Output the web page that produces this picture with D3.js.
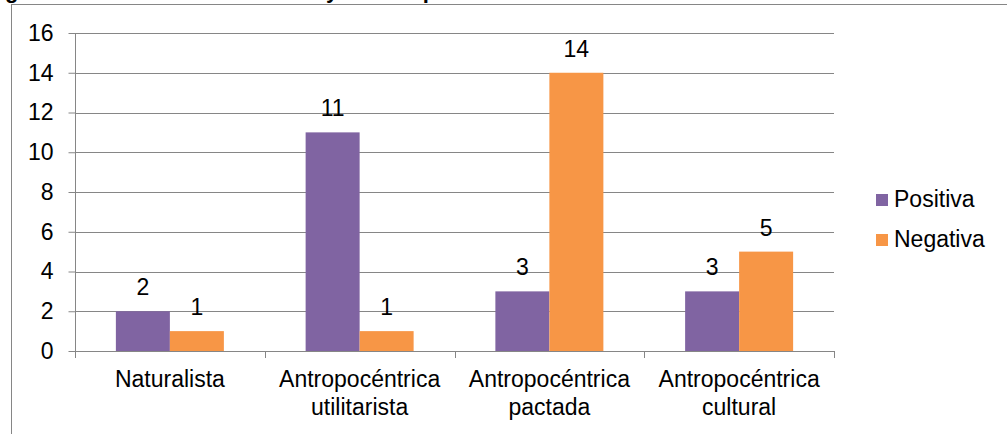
<!DOCTYPE html>
<html>
<head>
<meta charset="utf-8">
<script src="https://cdn.jsdelivr.net/npm/d3@7"></script>
<style>
  html, body { margin: 0; padding: 0; background: #fff; }
  svg { display: block; font-family: "Liberation Sans", Arial, sans-serif; }
</style>
</head>
<body>
<svg id="chart" width="1007" height="434"></svg>
<script>
// Categories, series and values
const categories = [
  ["Naturalista"],
  ["Antropocéntrica", "utilitarista"],
  ["Antropocéntrica", "pactada"],
  ["Antropocéntrica", "cultural"]
];
const seriesNames = ["Positiva", "Negativa"];
const positiva = [2, 11, 3, 3];
const negativa = [1, 1, 14, 5];
const yTicks = [0, 2, 4, 6, 8, 10, 12, 14, 16];
const colors = ["#8064A2", "#F79646"];
const titleText = "Figura 3. Visiones de naturaleza y actitud percibida";

const values = [positiva, negativa];
const svg = d3.select("#chart");
const gridColor = "#868686";
const fontSize = 23;

// Outer chart frame
svg.append("rect")
  .attr("x", 11.5).attr("y", 4.5)
  .attr("width", 1100).attr("height", 600)
  .attr("fill", "none").attr("stroke", gridColor).attr("stroke-width", 1);

// Title (sits above the frame top)
svg.append("text")
  .attr("x", -14.6).attr("y", -2)
  .attr("font-size", 22).attr("font-weight", "bold")
  .attr("fill", "#000")
  .text(titleText);

const plot = { left: 75, right: 834, top: 33, bottom: 351 };

const y = d3.scaleLinear().domain([0, 16]).range([plot.bottom, plot.top]);
const keys = categories.map(c => c.join(" "));
const x0 = d3.scaleBand().domain(keys).range([plot.left, plot.right]).padding(0);
const x1 = d3.scaleBand().domain(seriesNames).range([0, x0.bandwidth()])
  .paddingInner(0).paddingOuter(0.757);

// Horizontal gridlines
svg.append("g").selectAll("line").data(yTicks.filter(t => t > 0)).join("line")
  .attr("x1", plot.left).attr("x2", plot.right)
  .attr("y1", d => Math.round(y(d)) + 0.5).attr("y2", d => Math.round(y(d)) + 0.5)
  .attr("stroke", gridColor).attr("stroke-width", 1);

// Bars
const groups = svg.append("g").selectAll("g").data(keys).join("g")
  .attr("transform", d => `translate(${x0(d)},0)`);
groups.each(function(k, i) {
  const g = d3.select(this);
  seriesNames.forEach((s, si) => {
    const v = values[si][i];
    g.append("rect")
      .attr("x", x1(s)).attr("width", x1.bandwidth())
      .attr("y", y(v)).attr("height", y(0) - y(v))
      .attr("fill", colors[si]);
    g.append("text")
      .attr("x", x1(s) + x1.bandwidth() / 2)
      .attr("y", y(v) - 16)
      .attr("text-anchor", "middle")
      .attr("font-size", fontSize).attr("fill", "#000")
      .text(v);
  });
});

// Y axis
const yAxis = d3.axisLeft(y).tickValues(yTicks).tickSize(7).tickPadding(15);
const gy = svg.append("g").attr("transform", `translate(${plot.left + 0.5},0)`).call(yAxis);
gy.select(".domain").attr("stroke", gridColor).attr("d", `M0,${plot.top}V${plot.bottom + 7}`);
gy.selectAll(".tick line").attr("stroke", gridColor);
gy.selectAll(".tick text").attr("font-size", fontSize).attr("fill", "#000")
  .attr("font-family", "Liberation Sans, Arial, sans-serif");

// X axis with ticks at category boundaries
const gx = svg.append("g");
gx.append("line")
  .attr("x1", plot.left).attr("x2", plot.right)
  .attr("y1", plot.bottom + 0.5).attr("y2", plot.bottom + 0.5)
  .attr("stroke", gridColor);
const bounds = keys.map(k => x0(k)).concat([x0(keys[keys.length - 1]) + x0.bandwidth()]);
gx.selectAll("line.tk").data(bounds).join("line").attr("class", "tk")
  .attr("x1", d => Math.round(d) + 0.5).attr("x2", d => Math.round(d) + 0.5)
  .attr("y1", plot.bottom).attr("y2", plot.bottom + 7)
  .attr("stroke", gridColor);

// Category labels
categories.forEach((lines, i) => {
  const cx = x0(keys[i]) + x0.bandwidth() / 2;
  const t = gx.append("text").attr("text-anchor", "middle")
    .attr("font-size", fontSize).attr("fill", "#000");
  lines.forEach((ln, li) => {
    t.append("tspan").attr("x", cx).attr("y", 387 + li * 28).text(ln);
  });
});

// Legend
const legend = svg.append("g");
seriesNames.forEach((s, i) => {
  const by = 207 + i * 40;
  legend.append("rect").attr("x", 876).attr("y", by - 13)
    .attr("width", 12).attr("height", 12).attr("fill", colors[i]);
  legend.append("text").attr("x", 894).attr("y", by)
    .attr("font-size", fontSize).attr("fill", "#000").text(s);
});
</script>
</body>
</html>
